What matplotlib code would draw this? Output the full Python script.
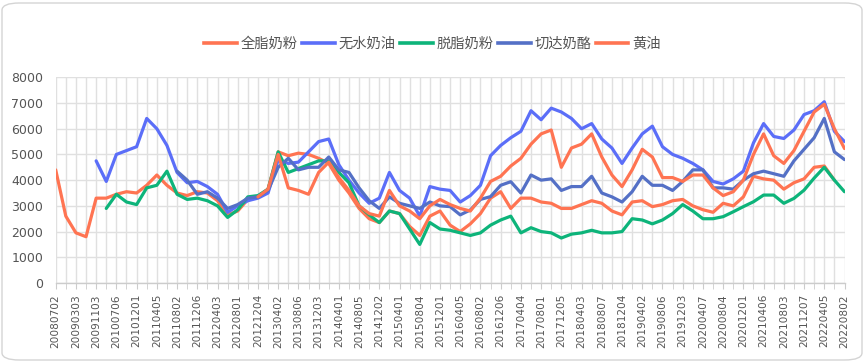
import numpy as np
import matplotlib.pyplot as plt
from matplotlib.patches import FancyBboxPatch
from matplotlib.lines import Line2D

plt.rcParams['font.family'] = ['Noto Sans CJK SC', 'DejaVu Sans']

W, H = 865, 362

# tick labels, one every second sample
dates = ['20080702', '20090303', '20091103', '20100706', '20101201', '20110405',
         '20110802', '20111206', '20120403', '20120801', '20121204', '20130402',
         '20130806', '20131203', '20140401', '20140805', '20141202', '20150401',
         '20150804', '20151201', '20160405', '20160802', '20161206', '20170404',
         '20170801', '20171205', '20180403', '20180807', '20181204', '20190402',
         '20190806', '20191203', '20200407', '20200804', '20201201', '20210406',
         '20210803', '20211207', '20220405', '20220802']

# prices, one sample per grid column (None = no data)
wmp = [4400, 2600, 1950, 1800, 3300, 3300, 3450, 3550, 3500, 3800,
       4200, 3800, 3500, 3400, 3550, 3500, 3200, 2650, 2800, 3250,
       3350, 3650, 5100, 4950, 5050, 5000, 4850, 4650, 4000, 3500,
       2900, 2500, 2350, 2800, 2700, 2200, 1850, 2600, 2800, 2250,
       2000, 2300, 2700, 3300, 3550, 2900, 3300, 3300, 3150, 3100,
       2900, 2900, 3050, 3200, 3100, 2800, 2650, 3150, 3200, 2970,
       3050, 3200, 3250, 3000, 2850, 2750, 3100, 3000, 3350, 4150,
       4050, 4000, 3650, 3900, 4050, 4500, 4550, 4000, None]

amf = [None, None, None, None, 4750, 3950, 5000, 5150, 5300, 6400,
       6000, 5350, 4300, 3900, 3950, 3750, 3450, 2750, 3000, 3200,
       3300, 3500, 4800, 4650, 4700, 5100, 5500, 5600, 4600, 4000,
       3500, 3100, 3300, 4300, 3600, 3300, 2600, 3750, 3650, 3600,
       3150, 3400, 3800, 4950, 5350, 5650, 5900, 6700, 6350, 6800,
       6650, 6400, 6000, 6200, 5600, 5250, 4650, 5250, 5800, 6100,
       5300, 5000, 4850, 4650, 4400, 3950, 3850, 4050, 4350, 5450,
       6200, 5700, 5620, 5950, 6550, 6700, 7050, 5900, 5500]

smp = [None, None, None, None, None, 2900, 3450, 3150, 3050, 3700,
       3800, 4350, 3450, 3250, 3300, 3200, 3000, 2550, 2850, 3350,
       3400, 3650, 5100, 4300, 4450, 4600, 4750, 4750, 4300, 3900,
       3000, 2650, 2350, 2800, 2700, 2100, 1500, 2350, 2100, 2050,
       1950, 1850, 1950, 2250, 2450, 2600, 1950, 2150, 2000, 1950,
       1750, 1900, 1950, 2050, 1950, 1950, 2000, 2500, 2450, 2300,
       2450, 2700, 3050, 2800, 2500, 2500, 2580, 2770, 2970, 3160,
       3420, 3420, 3100, 3290, 3610, 4080, 4500, 4000, 3550]

cheddar = [None, None, None, None, None, None, None, None, None, None,
           None, None, 4350, 4000, 3450, 3550, 3300, 2900, 3050, 3300,
           3350, 3600, 4500, 4850, 4400, 4500, 4500, 4900, 4400, 4300,
           3700, 3200, 2900, 3350, 3100, 3000, 2900, 3150, 3000, 2970,
           2650, 2840, 3250, 3360, 3800, 3940, 3500, 4200, 4000, 4050,
           3600, 3750, 3750, 4150, 3500, 3350, 3150, 3550, 4150, 3800,
           3800, 3600, 3950, 4400, 4400, 3700, 3700, 3650, 4000, 4250,
           4350, 4250, 4150, 4750, 5200, 5650, 6400, 5100, 4800]

butter = [None, None, None, None, None, None, None, None, None, None,
          None, None, None, None, None, None, None, None, None, None,
          3350, 3650, 5000, 3700, 3600, 3450, 4300, 4700, 4100, 3600,
          3000, 2700, 2600, 3600, 3000, 2800, 2500, 3000, 3250, 3050,
          2900, 2800, 3300, 3950, 4150, 4550, 4850, 5400, 5800, 5950,
          4500, 5250, 5400, 5800, 4900, 4200, 3750, 4400, 5200, 4900,
          4100, 4100, 3950, 4200, 4200, 3700, 3400, 3550, 4000, 5000,
          5800, 4950, 4650, 5150, 5900, 6650, 6950, 6000, 5230]

series = [
    ('全脂奶粉', wmp, '#FF7452'),
    ('无水奶油', amf, '#5B6EF8'),
    ('脱脂奶粉', smp, '#0DB47A'),
    ('切达奶酪', cheddar, '#5470C6'),
    ('黄油', butter, '#FF7452'),
]

fig = plt.figure(figsize=(W / 100, H / 100), dpi=100)

# rounded card border
card = FancyBboxPatch((2 / W, 2 / H), (W - 5) / W, (H - 5) / H,
                      boxstyle='round,pad=0,rounding_size=0.02',
                      transform=fig.transFigure, facecolor='none',
                      edgecolor='#d4d4d4', linewidth=1.0, zorder=-1)
fig.patches.append(card)

left, right, top, bottom = 55.7, 844.5, 77.3, 283
ax = fig.add_axes([left / W, 1 - bottom / H, (right - left) / W, (bottom - top) / H])
ax.set_facecolor('none')

n = len(amf)
x = np.arange(n)
ax.set_xlim(0, n - 1)
ax.set_ylim(0, 8000)

for name, vals, color in series:
    y = np.array(vals, dtype=float)
    ax.plot(x, y, color=color, linewidth=2.3, solid_capstyle='round',
            solid_joinstyle='round', zorder=3)

ax.set_yticks(np.arange(0, 8001, 1000))
ax.set_xticks(x[::2])
ax.set_xticklabels(dates, rotation=90, fontsize=7.6, color='#555555',
                   family='DejaVu Sans')
ax.set_xticks(x, minor=True)
ax.tick_params(axis='y', length=0, pad=9, labelsize=9, labelcolor='#555555')
ax.tick_params(axis='x', which='both', length=4, color='#cccccc', pad=4)
for lab in ax.get_yticklabels():
    lab.set_family('DejaVu Sans')

ax.grid(True, which='major', axis='y', color='#e0e0e0', linewidth=1.0, zorder=0)
ax.grid(True, which='both', axis='x', color='#e0e0e0', linewidth=1.0, zorder=0)
ax.set_axisbelow(True)
for s in ['top', 'right', 'left']:
    ax.spines[s].set_visible(False)
ax.spines['bottom'].set_color('#cccccc')
ax.spines['bottom'].set_linewidth(1.0)

handles = [Line2D([0], [0], color=c, linewidth=2.6) for _, _, c in series]
leg = fig.legend(handles, [s[0] for s in series], loc='center',
                 bbox_to_anchor=(0.5, 1 - 44 / H), ncol=5, frameon=False,
                 fontsize=10.3, handlelength=2.3, handletextpad=0.25,
                 columnspacing=0.3)
for t in leg.get_texts():
    t.set_color('#555555')

fig.savefig('out.png', dpi=100)
